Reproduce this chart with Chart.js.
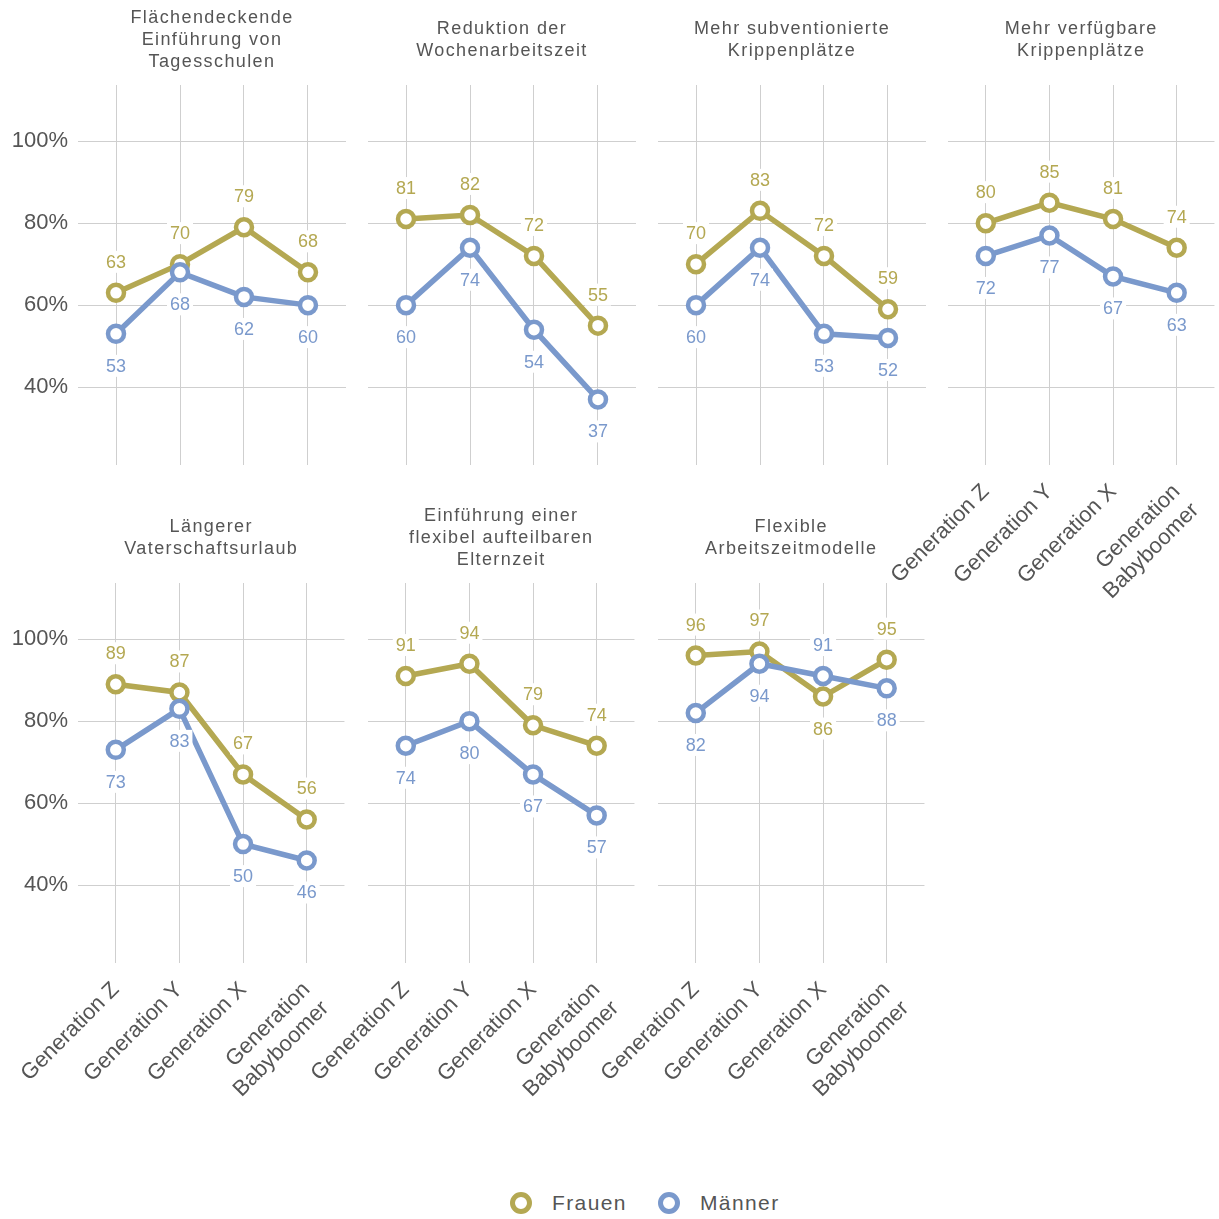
<!DOCTYPE html>
<html lang="de">
<head>
<meta charset="utf-8">
<script src="https://cdn.jsdelivr.net/npm/chart.js@4/dist/chart.umd.min.js"></script>
<style>
  html, body { margin: 0; padding: 0; background: #fff; }
  body { width: 1219px; height: 1219px; position: relative; overflow: hidden; }
  .panel { position: absolute; width: 360px; height: 615px; }
  .legende { position: absolute; left: 510px; top: 1191px; display: flex; align-items: center;
    font-family: 'Liberation Sans', Arial, sans-serif; font-size: 21px; color: #555; letter-spacing: 1.4px; }
  .legende span.kreis { display: inline-block; width: 12px; height: 12px; border-radius: 50%;
    border: 5px solid; background: #fff; margin-right: 20px; }
  .legende .eintrag { display: flex; align-items: center; margin-right: 31px; }
</style>
</head>
<body>
<div class="legende">
  <div class="eintrag"><span class="kreis" style="border-color:#b4a852"></span>Frauen</div>
  <div class="eintrag"><span class="kreis" style="border-color:#7a99cc"></span>Männer</div>
</div>
<script>
const GENERATIONEN = ['Generation Z', 'Generation Y', 'Generation X', ['Generation', 'Babyboomer']];
const Y_TICKS = [40, 60, 80, 100];

const TITEL = [
    ['Flächendeckende', 'Einführung von', 'Tagesschulen'],
    ['Reduktion der', 'Wochenarbeitszeit'],
    ['Mehr subventionierte', 'Krippenplätze'],
    ['Mehr verfügbare', 'Krippenplätze'],
    ['Längerer', 'Vaterschaftsurlaub'],
    ['Einführung einer', 'flexibel aufteilbaren', 'Elternzeit'],
    ['Flexible', 'Arbeitszeitmodelle'],
];

const FRAUEN = [
    [63, 70, 79, 68],
    [81, 82, 72, 55],
    [70, 83, 72, 59],
    [80, 85, 81, 74],
    [89, 87, 67, 56],
    [91, 94, 79, 74],
    [96, 97, 86, 95],
];

const MAENNER = [
    [53, 68, 62, 60],
    [60, 74, 54, 37],
    [60, 74, 53, 52],
    [72, 77, 67, 63],
    [73, 83, 50, 46],
    [74, 80, 67, 57],
    [82, 94, 91, 88],
];

const OLIV = '#b4a852';
const BLAU = '#7a99cc';
const GRAU = '#555';
const RASTER = '#cfcfcf';

// Titel über der Zeichenfläche, vertikal zentriert
const titelPlugin = {
    id: 'panelTitel',
    afterDraw(chart, args, opts) {
        const { ctx, chartArea } = chart;
        const zeilen = opts.zeilen || [];
        const mitte = (chartArea.left + chartArea.right) / 2;
        ctx.save();
        ctx.font = '18px "Liberation Sans", Arial, sans-serif';
        ctx.letterSpacing = '1.4px';
        ctx.fillStyle = GRAU;
        ctx.textAlign = 'center';
        ctx.textBaseline = 'middle';
        const start = 40 - (zeilen.length - 1) * 11;
        zeilen.forEach((z, i) => ctx.fillText(z, mitte, start + i * 22));
        ctx.restore();
    }
};

// Werte-Beschriftung: höherer Wert oben, tieferer unten
const wertePlugin = {
    id: 'werte',
    afterDatasetsDraw(chart) {
        const { ctx } = chart;
        const f = chart.getDatasetMeta(0);
        const m = chart.getDatasetMeta(1);
        const fw = chart.data.datasets[0].data.map(p => p.y);
        const mw = chart.data.datasets[1].data.map(p => p.y);
        ctx.save();
        ctx.font = '18px "Liberation Sans", Arial, sans-serif';
        ctx.textAlign = 'center';
        ctx.textBaseline = 'middle';
        const zeichne = (text, x, y, farbe) => {
            const b = ctx.measureText(text).width + 6;
            ctx.fillStyle = '#fff';
            ctx.fillRect(x - b / 2, y - 11, b, 22);
            ctx.fillStyle = farbe;
            ctx.fillText(text, x, y + 1);
        };
        fw.forEach((wert, i) => {
            const pf = f.data[i];
            const pm = m.data[i];
            const frauenOben = wert >= mw[i];
            zeichne(String(wert), pf.x, pf.y + (frauenOben ? -31 : 32), OLIV);
            zeichne(String(mw[i]), pm.x, pm.y + (frauenOben ? 32 : -31), BLAU);
        });
        ctx.restore();
    }
};

function datensatz(label, werte, farbe, order) {
    return {
        label,
        data: werte.map((v, i) => ({ x: i, y: v })),
        borderColor: farbe,
        borderWidth: 5.5,
        pointBorderColor: farbe,
        pointBackgroundColor: '#fff',
        pointRadius: 8,
        pointHoverRadius: 8,
        pointBorderWidth: 4.5,
        tension: 0,
        order,
    };
}

function erstellePanel(index) {
    const spalte = index % 4;
    const zeile = Math.floor(index / 4);
    const div = document.createElement('div');
    div.className = 'panel';
    div.style.left = (290 * spalte) + 'px';
    div.style.top = (498 * zeile) + 'px';
    const canvas = document.createElement('canvas');
    div.appendChild(canvas);
    document.body.appendChild(div);

    const xLabels = zeile === 1 || index === 3;

    new Chart(canvas, {
        type: 'line',
        data: {
            datasets: [
                datensatz('Frauen', FRAUEN[index], OLIV, 1),
                datensatz('Männer', MAENNER[index], BLAU, 0),
            ],
        },
        options: {
            responsive: true,
            maintainAspectRatio: false,
            animation: false,
            layout: { padding: { top: 85, right: 14, left: 0, bottom: 0 } },
            plugins: {
                legend: { display: false },
                tooltip: { enabled: false },
                panelTitel: { zeilen: TITEL[index] },
            },
            scales: {
                x: {
                    type: 'linear',
                    min: -0.594,
                    max: 3.594,
                    afterBuildTicks: scale => { scale.ticks = [0, 1, 2, 3].map(v => ({ value: v })); },
                    afterFit: scale => { scale.height = 150; },
                    border: { display: false },
                    grid: { color: RASTER, drawTicks: false },
                    ticks: {
                        display: xLabels,
                        autoSkip: false,
                        minRotation: 45,
                        maxRotation: 45,
                        padding: 14,
                        color: GRAU,
                        font: { family: '"Liberation Sans", Arial, sans-serif', size: 22 },
                        callback: v => GENERATIONEN[v],
                    },
                },
                y: {
                    min: 21,
                    max: 113.7,
                    afterBuildTicks: scale => { scale.ticks = Y_TICKS.map(v => ({ value: v })); },
                    afterFit: scale => { scale.width = 78; },
                    border: { display: false },
                    grid: { color: RASTER, drawTicks: false },
                    ticks: {
                        display: spalte === 0,
                        padding: 10,
                        color: GRAU,
                        font: { family: '"Liberation Sans", Arial, sans-serif', size: 22 },
                        callback: v => v + '%',
                    },
                },
            },
        },
        plugins: [titelPlugin, wertePlugin],
    });
}

TITEL.forEach((_, i) => erstellePanel(i));
</script>
</body>
</html>
